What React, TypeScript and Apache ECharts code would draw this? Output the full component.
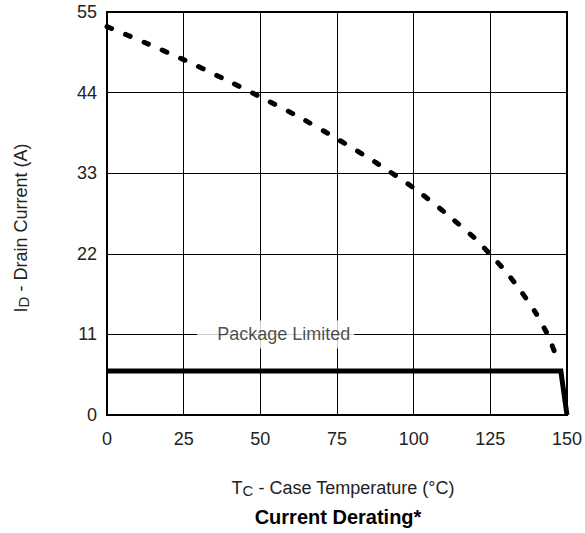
import React, { useEffect, useRef } from "react";
import * as echarts from "echarts";

// Tc (°C) and Id (A) for the dashed derating curve
const curveTemp = [0, 12.5, 25, 37.5, 50, 62.5, 75, 87.5, 100, 110, 120, 125, 130, 135, 140, 144, 147];
const curveCurrent = [53.0, 50.8, 48.5, 46.0, 43.4, 40.7, 37.7, 34.5, 31.0, 27.7, 24.1, 21.9, 19.6, 16.9, 13.8, 10.7, 7.4];

// package limit line
const pkgTemp = [0, 148, 150];
const pkgCurrent = [6, 6, 0];

const pkgLabel = "Package Limited";
const pkgLabelPos = [55, 11];

const xTicks = { min: 0, max: 150, interval: 25 };
const yTicks = { min: 0, max: 55, interval: 11 };

const FONT = "'Liberation Sans', Arial, Helvetica, sans-serif";

export default function App() {
  const ref = useRef<HTMLDivElement>(null);
  useEffect(() => {
    if (!ref.current) return;
    const chart = echarts.init(ref.current, null, { renderer: "svg" });
    chart.setOption({
      animation: false,
      backgroundColor: "#fff",
      textStyle: { fontFamily: FONT },
      grid: {
        left: 107,
        right: 14,
        top: 12,
        bottom: 118,
        show: true,
        borderColor: "#000",
        borderWidth: 2,
        backgroundColor: "transparent",
      },
      xAxis: {
        type: "value",
        min: xTicks.min,
        max: xTicks.max,
        interval: xTicks.interval,
        axisLine: { show: false },
        axisTick: { show: false },
        splitLine: { show: true, lineStyle: { color: "#000", width: 1 } },
        axisLabel: { fontSize: 18, color: "#222", margin: 15, fontFamily: FONT },
      },
      yAxis: {
        type: "value",
        min: yTicks.min,
        max: yTicks.max,
        interval: yTicks.interval,
        axisLine: { show: false },
        axisTick: { show: false },
        splitLine: { show: true, lineStyle: { color: "#000", width: 1 } },
        axisLabel: { fontSize: 18, color: "#222", margin: 10, fontFamily: FONT },
      },
      series: [
        {
          type: "line",
          data: curveTemp.map((t, i) => [t, curveCurrent[i]]),
          showSymbol: false,
          symbol: "none",
          smooth: 0.2,
          lineStyle: { color: "#000", width: 5, type: [5, 15], cap: "round" },
          z: 3,
        },
        {
          type: "line",
          data: pkgTemp.map((t, i) => [t, pkgCurrent[i]]),
          showSymbol: false,
          symbol: "none",
          lineStyle: { color: "#000", width: 5, join: "miter" },
          z: 3,
        },
        {
          type: "scatter",
          data: [pkgLabelPos],
          symbolSize: 1,
          itemStyle: { color: "rgba(0,0,0,0)" },
          label: {
            show: true,
            position: "inside",
            formatter: pkgLabel,
            fontSize: 18,
            color: "#222",
            fontFamily: FONT,
            backgroundColor: "#fff",
            padding: [5, 4, 5, 20],
          },
          z: 4,
        },
      ],
      graphic: [
        {
          type: "text",
          x: 343,
          y: 488,
          style: {
            text: "{a|T}{b|C}{a| - Case Temperature (°C)}",
            align: "center",
            verticalAlign: "middle",
            rich: {
              a: { fontSize: 18, fontFamily: FONT, fill: "#222", lineHeight: 20 },
              b: { fontSize: 15, fontFamily: FONT, fill: "#222", lineHeight: 15, verticalAlign: "bottom", padding: [10, 0, 0, 0] },
            },
          },
        },
        {
          type: "text",
          x: 338,
          y: 517,
          style: {
            text: "Current Derating*",
            align: "center",
            verticalAlign: "middle",
            font: `bold 20px ${FONT}`,
            fill: "#000",
          },
        },
        {
          type: "text",
          x: 21,
          y: 228,
          rotation: Math.PI / 2,
          style: {
            text: "{a|I}{b|D}{a| - Drain Current (A)}",
            align: "center",
            verticalAlign: "middle",
            rich: {
              a: { fontSize: 18, fontFamily: FONT, fill: "#222", lineHeight: 20 },
              b: { fontSize: 15, fontFamily: FONT, fill: "#222", lineHeight: 15, verticalAlign: "bottom", padding: [10, 0, 0, 0] },
            },
          },
        },
      ],
    });
    return () => chart.dispose();
  }, []);
  return <div ref={ref} style={{ position: "absolute", left: 0, top: 0, width: 585, height: 533 }} />;
}
